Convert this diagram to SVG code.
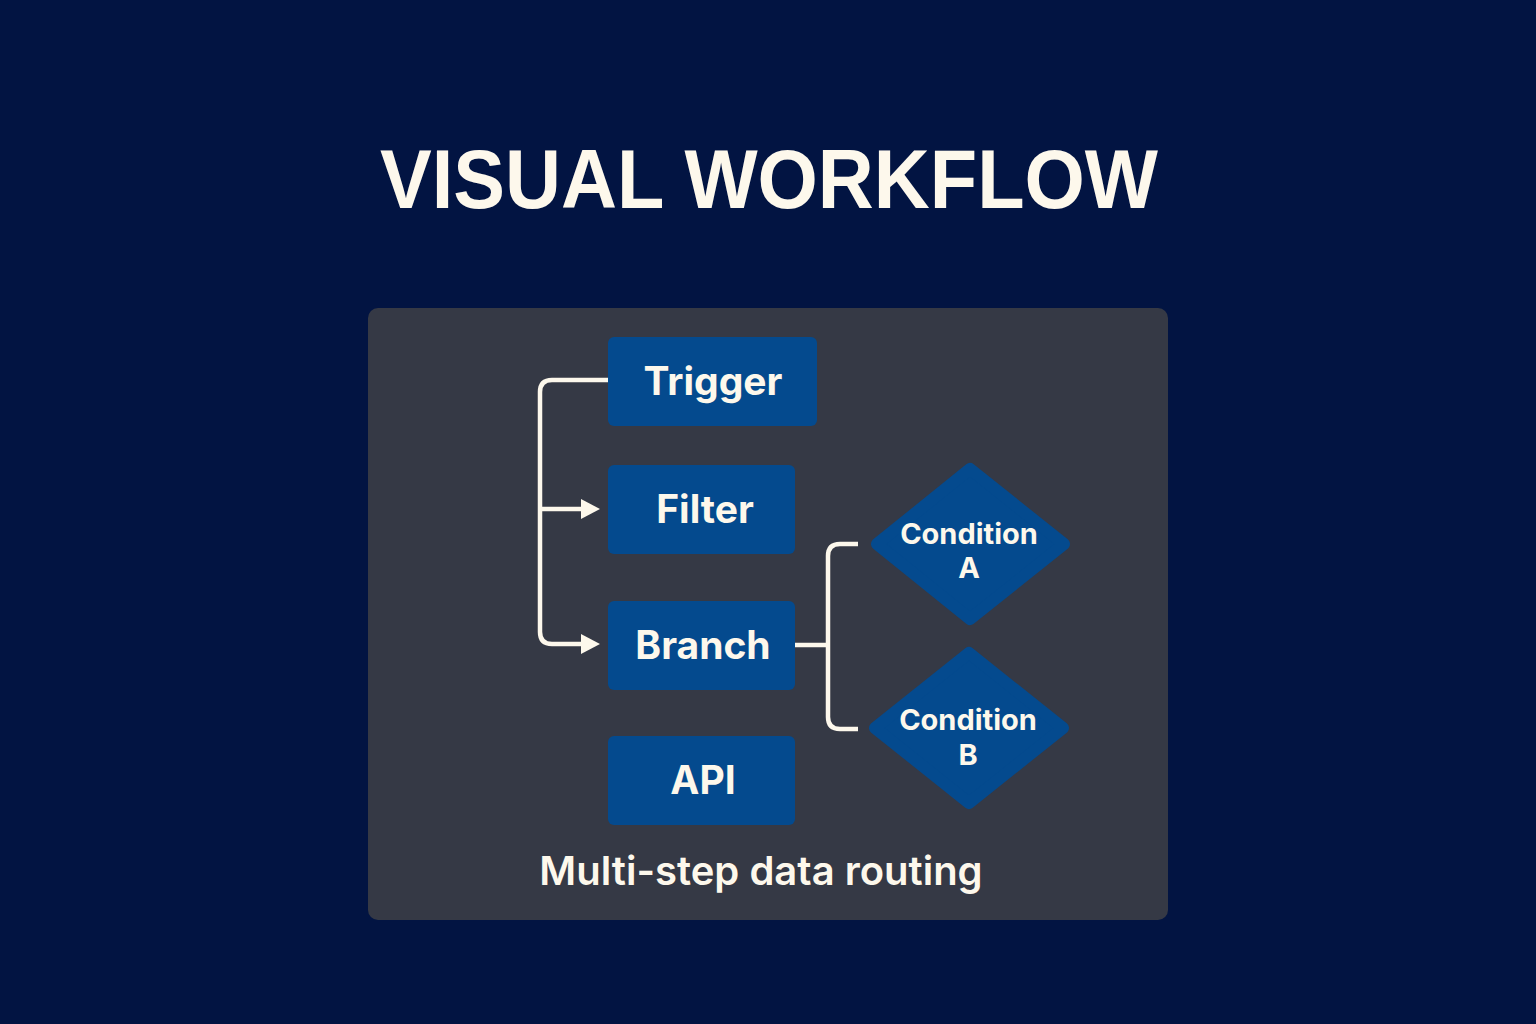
<svg xmlns="http://www.w3.org/2000/svg" width="1536" height="1024" viewBox="0 0 1536 1024">
<defs>
<style>
.bg{fill:#021442}
.panel{fill:#353945}
.box{fill:#044a8e}
.dia{fill:#044a8e;stroke:#044a8e;stroke-width:12;stroke-linejoin:round}
.lbl{font-family:Inter,"Open Sans","Liberation Sans",sans-serif;font-weight:700;fill:#fdf8ec;text-anchor:middle}
.conn{fill:none;stroke:#fdf8ec;stroke-width:4.5;stroke-linejoin:round}
</style>
<marker id="arr" markerUnits="userSpaceOnUse" markerWidth="24" markerHeight="24" viewBox="0 0 24 24" refX="4" refY="12" orient="auto">
<path d="M1,2 L20,12 L1,22 Z" fill="#fdf8ec"/>
</marker>
</defs>
<rect class="bg" x="0" y="0" width="1536" height="1024"/>
<text x="769" y="208" font-family="'Liberation Sans',Arial,sans-serif" font-weight="700" font-size="84" fill="#fdf8ec" text-anchor="middle" textLength="778" lengthAdjust="spacingAndGlyphs">VISUAL WORKFLOW</text>
<rect class="panel" x="368" y="308" width="800" height="612" rx="10"/>
<g id="connectors">
<path class="conn" d="M608,380 H552 Q540,380 540,392 V632 Q540,644 552,644 H584" marker-end="url(#arr)"/>
<path class="conn" d="M540,509 H584" marker-end="url(#arr)"/>
<path class="conn" d="M795,645 H828"/>
<path class="conn" d="M858,544 H840 Q828,544 828,556 V717 Q828,729 840,729 H858"/>
</g>
<g id="trigger"><rect class="box" x="608" y="337" width="209" height="89" rx="6"/><text class="lbl" x="713" y="395" font-size="39" font-weight="800">Trigger</text></g>
<g id="filter"><rect class="box" x="608" y="465" width="187" height="89" rx="6"/><text class="lbl" x="705" y="523" font-size="39" font-weight="800">Filter</text></g>
<g id="branch"><rect class="box" x="608" y="601" width="187" height="89" rx="6"/><text class="lbl" x="703" y="659" font-size="39" font-weight="800">Branch</text></g>
<g id="api"><rect class="box" x="608" y="736" width="187" height="89" rx="6"/><text class="lbl" x="703" y="794" font-size="39" font-weight="800">API</text></g>
<g id="conditionA"><polygon class="dia" points="970,469 1064,544 970,619 877,544"/><text class="lbl" x="969" y="544" font-size="29" font-weight="800">Condition</text><text class="lbl" x="969" y="578" font-size="29" font-weight="800">A</text></g>
<g id="conditionB"><polygon class="dia" points="969,653 1063,728 969,803 875,728"/><text class="lbl" x="968" y="730" font-size="29" font-weight="800">Condition</text><text class="lbl" x="968" y="765" font-size="29" font-weight="800">B</text></g>
<text x="761" y="885" font-family="Inter,'Open Sans','Liberation Sans',sans-serif" font-weight="600" font-size="40" fill="#fdf8ec" text-anchor="middle">Multi-step data routing</text>
</svg>
